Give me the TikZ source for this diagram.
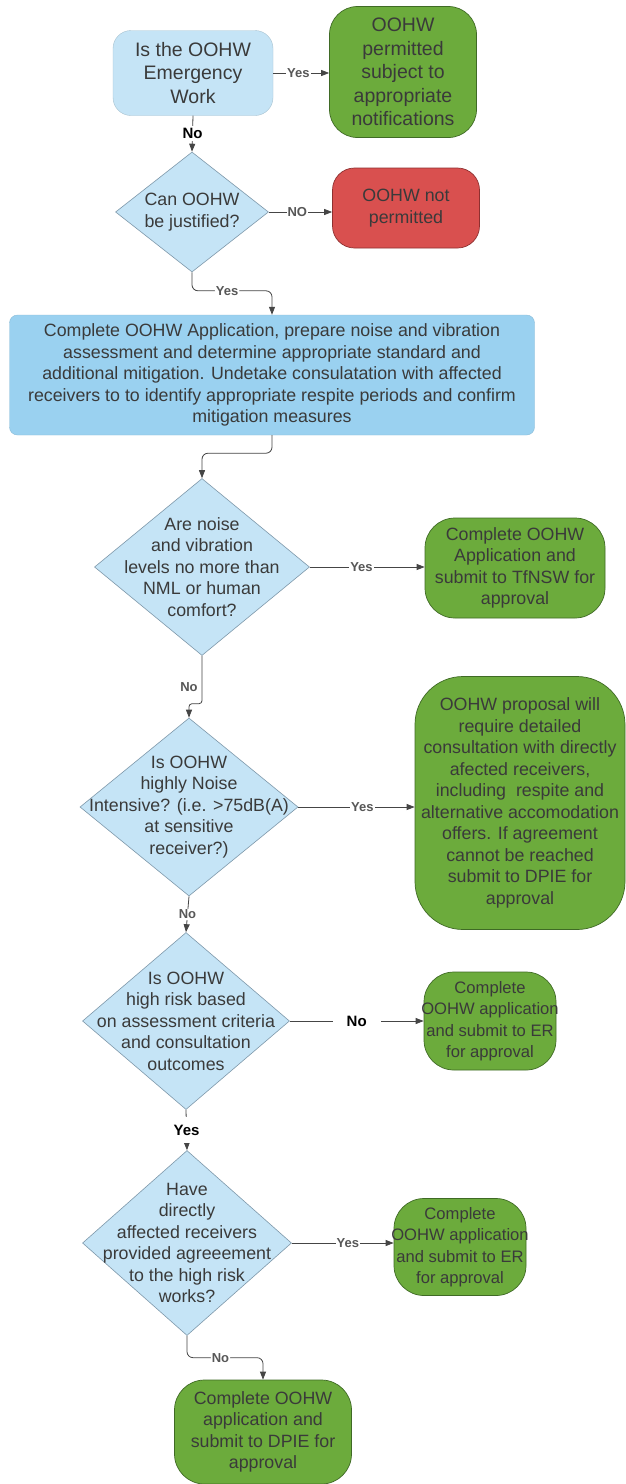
\documentclass[tikz,border=0pt]{standalone}
\usepackage{fontspec}
\setmainfont{Liberation Sans}
\usetikzlibrary{shapes.geometric,arrows.meta,calc}
\definecolor{lblue}{HTML}{C5E4F6}
\definecolor{lbdraw}{HTML}{7E98AA}
\definecolor{bblue}{HTML}{9AD1F0}
\definecolor{gfill}{HTML}{6CAB3C}
\definecolor{gdraw}{HTML}{3F6A25}
\definecolor{rfill}{HTML}{D9504F}
\definecolor{rdraw}{HTML}{8E3030}
\definecolor{txt}{HTML}{3A3A3A}
\definecolor{ln}{HTML}{454545}
\tikzset{
  base/.style={font=\fontsize{17.8}{21.5}\selectfont, text=txt, align=center, inner sep=0pt},
  bigfont/.style={font=\fontsize{19.5}{23.5}\selectfont},
  smallfont/.style={font=\fontsize{16.6}{21.5}\selectfont},
  startbox/.style={base, bigfont, fill=lblue, draw=lblue!85!black, rounded corners=18pt},
  gbox/.style={base, fill=gfill, draw=gdraw, line width=0.7pt},
  rbox/.style={base, fill=rfill, draw=rdraw, line width=0.7pt, rounded corners=22pt},
  procbox/.style={base, fill=bblue, draw=bblue!90!black, rounded corners=8pt},
  dia/.style={diamond, fill=lblue, draw=lbdraw, line width=0.6pt, inner sep=0pt},
  dtext/.style={base},
  arr/.style={draw=ln, line width=0.8pt, -{Triangle[length=8pt,width=6pt]}},
  lbl/.style={font=\fontsize{13}{15}\selectfont\bfseries, text=txt!85, fill=white, inner sep=1pt},
  blbl/.style={font=\fontsize{15}{18}\selectfont\bfseries, text=black, fill=white, inner sep=2pt}
}
\begin{document}
\begin{tikzpicture}[x=1pt,y=-1pt]
\useasboundingbox (0,0) rectangle (625,1484);
\fill[white] (0,0) rectangle (625,1484);

% start
\node[startbox, minimum width=160pt, minimum height=85pt] (start) at (193,73) {Is the OOHW\\Emergency\\Work};
\node[gbox, bigfont, rounded corners=28pt, minimum width=147pt, minimum height=131pt] (g1) at (403,72) {OOHW\\permitted\\subject to\\appropriate\\notifications};

% justified
\node[dia, minimum width=153pt, minimum height=120pt] (d2) at (192,212) {};
\node[dtext] (d2t) at (d2) {Can OOHW\\be justified?};
\node[rbox, minimum width=147pt, minimum height=80pt] (red) at (406,208) {OOHW not\\permitted};

% big box
\node[procbox, minimum width=525pt, minimum height=120pt] (box) at (272,375) {Complete OOHW Application, prepare noise and vibration\\assessment and determine appropriate standard and\\additional mitigation. Undetake consulatation with affected\\receivers to to identify appropriate respite periods and confirm\\mitigation measures};

% d3
\node[dia, minimum width=215pt, minimum height=177pt] (d3) at (202,567) {};
\node[dtext] (d3t) at (d3) {Are noise\\and vibration\\levels no more than\\NML or human\\comfort?};
\node[gbox, rounded corners=30pt, minimum width=180pt, minimum height=100pt] (g2) at (515,568) {Complete OOHW\\Application and\\submit to TfNSW for\\approval};

% d4
\node[dia, minimum width=218pt, minimum height=178pt] (d4) at (189,807) {};
\node[dtext] (d4t) at (d4) {Is OOHW\\highly Noise\\Intensive? (i.e. >75dB(A)\\at sensitive\\receiver?)};
\node[gbox, rounded corners=48pt, minimum width=210pt, minimum height=253pt] (g3) at (520,803) {OOHW proposal will\\require detailed\\consultation with directly\\afected receivers,\\including\ \ respite and\\alternative accomodation\\offers. If agreement\\cannot be reached\\submit to DPIE for\\approval};

% d5
\node[dia, minimum width=207pt, minimum height=177pt] (d5) at (186,1021) {};
\node[dtext] (d5t) at (d5) {Is OOHW\\high risk based\\on assessment criteria\\and consultation\\outcomes};
\node[gbox, rounded corners=30pt, minimum width=132pt, minimum height=98pt] (g4) at (490,1021) {};
\node[dtext, smallfont] (g4t) at (g4) {Complete\\OOHW application\\and submit to ER\\for approval};

% d6
\node[dia, minimum width=209pt, minimum height=185pt] (d6) at (187,1243) {};
\node[dtext] (d6t) at (d6) {Have\\directly\\affected receivers\\provided agreeement\\to the high risk\\works?};
\node[gbox, rounded corners=30pt, minimum width=132pt, minimum height=97pt] (g5) at (460,1247) {};
\node[dtext, smallfont] (g5t) at (g5) {Complete\\OOHW application\\and submit to ER\\for approval};

% final
\node[gbox, rounded corners=30pt, minimum width=177pt, minimum height=104pt] (g6) at (263,1432) {Complete OOHW\\application and\\submit to DPIE for\\approval};

% connectors
\draw[arr] (start.east) -- node[lbl, pos=0.45]{Yes} (start.east -| g1.west);
\draw[arr] (start.south) -- node[blbl]{No} (d2.north);
\draw[arr] (d2.east) -- node[lbl, pos=0.45]{NO} (d2.east -| red.west);
\draw[arr, rounded corners=6pt] (d2.south) |- node[lbl, pos=0.72]{Yes} ([yshift=24pt]box.north) -- (box.north);
\draw[arr, rounded corners=6pt] (box.south) |- ([yshift=25pt]d3.north) -- (d3.north);
\draw[arr] (d3.east) -- node[lbl, pos=0.45]{Yes} (d3.east -| g2.west);
\draw[arr, rounded corners=3pt] (d3.south) |- ([yshift=14pt]d4.north) -- node[lbl, pos=-1.2]{No} (d4.north);
\draw[arr] (d4.east) -- node[lbl, pos=0.55]{Yes} (d4.east -| g3.west);
\draw[arr] (d4.south) -- node[lbl]{No} (d5.north);
\draw[arr] (d5.east) -- node[blbl, inner xsep=14pt]{No} (d5.east -| g4.west);
\draw[arr] (d5.south) -- node[blbl, inner ysep=8pt]{Yes} (d6.north);
\draw[arr] (d6.east) -- node[lbl, pos=0.55]{Yes} (d6.east -| g5.west);
\draw[arr, rounded corners=6pt] (d6.south) |- node[lbl, pos=0.72]{No} ([yshift=22pt]g6.north) -- (g6.north);
\end{tikzpicture}
\end{document}
